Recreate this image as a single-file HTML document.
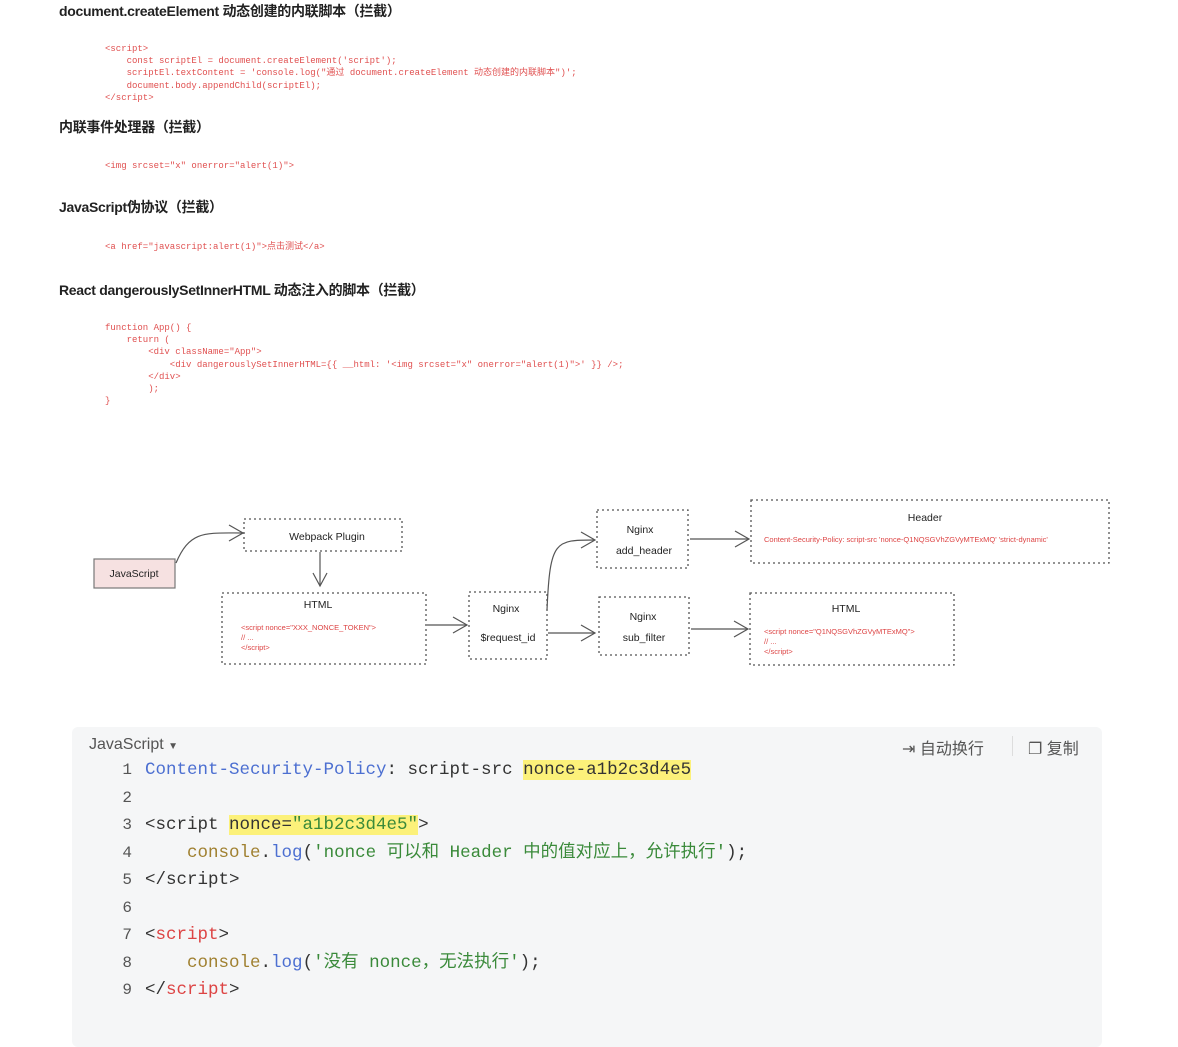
<!DOCTYPE html>
<html><head><meta charset="utf-8">
<style>
body{margin:0;width:1178px;height:1034px;background:#fff;position:relative;overflow:hidden;font-family:"Liberation Sans","Noto Sans CJK SC",sans-serif}
.h{position:absolute;left:59px;font-size:14px;font-weight:bold;color:#222;white-space:nowrap;letter-spacing:-0.3px}
.c{position:absolute;font-family:"Liberation Mono","Noto Sans CJK SC",monospace;font-size:9px;color:#e05050;white-space:pre;line-height:12.2px}
.cb{position:absolute;left:72px;top:727px;width:1030px;height:320px;background:#f5f6f7;border-radius:6px}
.ln{position:absolute;font-family:"Liberation Mono","Noto Sans CJK SC",monospace;font-size:17.5px;line-height:24px;height:24px;white-space:pre;color:#333}
.n{position:absolute;left:120px;width:12px;text-align:right;font-family:"Liberation Mono",monospace;font-size:16px;line-height:24px;color:#555}
.hl{background:#fcf17a}
</style></head><body>
<div class="h" style="top:1px">document.createElement 动态创建的内联脚本（拦截）</div>
<div class="c" style="left:105px;top:43px">&lt;script&gt;
    const scriptEl = document.createElement('script');
    scriptEl.textContent = 'console.log("通过 document.createElement 动态创建的内联脚本")';
    document.body.appendChild(scriptEl);
&lt;/script&gt;</div>
<div class="h" style="top:117px">内联事件处理器（拦截）</div>
<div class="c" style="left:105px;top:160px">&lt;img srcset="x" onerror="alert(1)"&gt;</div>
<div class="h" style="top:197px">JavaScript伪协议（拦截）</div>
<div class="c" style="left:105px;top:241px">&lt;a href="javascript:alert(1)"&gt;点击测试&lt;/a&gt;</div>
<div class="h" style="top:280px">React dangerouslySetInnerHTML 动态注入的脚本（拦截）</div>
<div class="c" style="left:105px;top:322px">function App() {
    return (
        &lt;div className="App"&gt;
            &lt;div dangerouslySetInnerHTML={{ __html: '&lt;img srcset="x" onerror="alert(1)"&gt;' }} /&gt;;
        &lt;/div&gt;
        );
}</div>

<svg style="position:absolute;left:0;top:0" width="1178" height="700" font-family="Liberation Sans, sans-serif">
<g fill="none" stroke="#555" stroke-width="1.3" stroke-dasharray="2,3">
<rect x="244" y="519" width="158" height="32"/>
<rect x="222" y="593" width="204" height="71"/>
<rect x="469" y="592" width="78" height="67"/>
<rect x="597" y="510" width="91" height="58"/>
<rect x="599" y="597" width="90" height="58"/>
<rect x="751" y="500" width="358" height="63"/>
<rect x="750" y="593" width="204" height="72"/>
</g>
<rect x="94" y="559" width="81" height="29" fill="#f6e1e1" stroke="#777" stroke-width="1.2"/>
<g fill="none" stroke="#555" stroke-width="1.2">
<path d="M176 563 C190 530,205 533,243 533"/><path d="M229 525 L243 533 L229 541"/>
<path d="M320 552 V586"/><path d="M313 573 L320 586 L327 573"/>
<path d="M427 625 H467"/><path d="M453 617 L467 625 L453 633"/>
<path d="M547 610 C550 540,555 540,595 540"/><path d="M581 532 L595 540 L581 548"/>
<path d="M548 633 H595"/><path d="M581 625 L595 633 L581 641"/>
<path d="M690 539 H749"/><path d="M735 531 L749 539 L735 547"/>
<path d="M691 629 H748"/><path d="M734 621 L748 629 L734 637"/>
</g>
<g font-size="10.5" fill="#222" text-anchor="middle">
<text x="134" y="577">JavaScript</text>
<text x="327" y="540">Webpack Plugin</text>
<text x="318" y="608">HTML</text>
<text x="506" y="612">Nginx</text>
<text x="508" y="641">$request_id</text>
<text x="640" y="533">Nginx</text>
<text x="644" y="554">add_header</text>
<text x="643" y="620">Nginx</text>
<text x="644" y="641">sub_filter</text>
<text x="925" y="521">Header</text>
<text x="846" y="612">HTML</text>
</g>
<g font-size="7.5" fill="#d44">
<text x="241" y="630">&lt;script nonce="XXX_NONCE_TOKEN"&gt;</text>
<text x="241" y="640">// ...</text>
<text x="241" y="650">&lt;/script&gt;</text>
<text x="764" y="542">Content-Security-Policy: script-src 'nonce-Q1NQSGVhZGVyMTExMQ' 'strict-dynamic'</text>
<text x="764" y="634">&lt;script nonce="Q1NQSGVhZGVyMTExMQ"&gt;</text>
<text x="764" y="644">// ...</text>
<text x="764" y="654">&lt;/script&gt;</text>
</g>
</svg>

<div class="cb"></div>
<div style="position:absolute;left:89px;top:736px;font-size:16px;color:#555">JavaScript <span style="font-size:10px">▼</span></div>
<div style="position:absolute;left:902px;top:735px;font-size:16px;color:#555">⇥ 自动换行</div>
<div style="position:absolute;left:1012px;top:736px;width:1px;height:20px;background:#ddd"></div>
<div style="position:absolute;left:1028px;top:735px;font-size:16px;color:#555">❐ 复制</div>

<div class="n" style="top:758px">1</div>
<div class="n" style="top:786px">2</div>
<div class="n" style="top:813px">3</div>
<div class="n" style="top:841px">4</div>
<div class="n" style="top:868px">5</div>
<div class="n" style="top:896px">6</div>
<div class="n" style="top:923px">7</div>
<div class="n" style="top:951px">8</div>
<div class="n" style="top:978px">9</div>
<div class="ln" style="left:145px;top:758px"><span style="color:#4c6fd1">Content-Security-Policy</span>: script-src <span class="hl">nonce-a1b2c3d4e5</span></div>
<div class="ln" style="left:145px;top:813px">&lt;script <span class="hl">nonce=<span style="color:#3a8a3a">"a1b2c3d4e5"</span></span>&gt;</div>
<div class="ln" style="left:145px;top:841px">    <span style="color:#a08030">console</span>.<span style="color:#4c6fd1">log</span>(<span style="color:#3a8a3a">'nonce 可以和 Header 中的值对应上，允许执行'</span>);</div>
<div class="ln" style="left:145px;top:868px">&lt;/script&gt;</div>
<div class="ln" style="left:145px;top:923px">&lt;<span style="color:#d44">script</span>&gt;</div>
<div class="ln" style="left:145px;top:951px">    <span style="color:#a08030">console</span>.<span style="color:#4c6fd1">log</span>(<span style="color:#3a8a3a">'没有 nonce，无法执行'</span>);</div>
<div class="ln" style="left:145px;top:978px">&lt;/<span style="color:#d44">script</span>&gt;</div>
</body></html>
